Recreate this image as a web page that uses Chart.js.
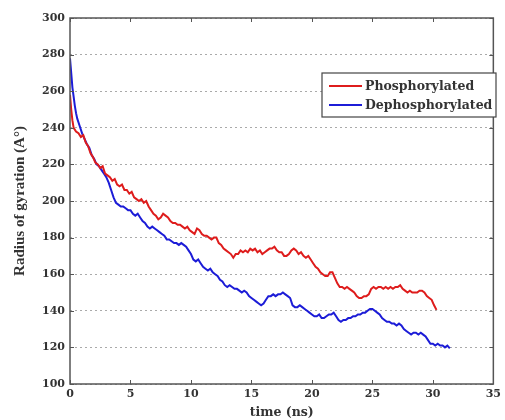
<!DOCTYPE html>
<html>
<head>
<meta charset="utf-8">
<script src="https://cdn.jsdelivr.net/npm/chart.js@4"></script>
<style>
  html, body { margin: 0; padding: 0; background: #fff; }
  #wrap { width: 505px; height: 420px; }
</style>
</head>
<body>
<div id="wrap"><canvas id="chart"></canvas></div>
<script>
// time (ns) and radius of gyration
const phosTime = [0,0.1,0.2,0.3,0.5,0.7,0.9,1.1,1.3,1.5,1.7,1.9,2.1,2.3,2.5,2.7,2.9,3.1,3.3,3.5,3.7,3.9,4.1,4.3,4.5,4.7,4.9,5.1,5.3,5.5,5.7,5.9,6.1,6.3,6.5,6.7,6.9,7.1,7.3,7.5,7.7,7.9,8.1,8.3,8.5,8.7,8.9,9.1,9.3,9.5,9.7,9.9,10.1,10.3,10.5,10.7,10.9,11.1,11.3,11.5,11.7,11.9,12.1,12.3,12.5,12.7,12.9,13.1,13.3,13.5,13.7,13.9,14.1,14.3,14.5,14.7,14.9,15.1,15.3,15.5,15.7,15.9,16.1,16.3,16.5,16.7,16.9,17.1,17.3,17.5,17.7,17.9,18.1,18.3,18.5,18.7,18.9,19.1,19.3,19.5,19.7,19.9,20.1,20.3,20.5,20.7,20.9,21.1,21.3,21.5,21.7,21.9,22.1,22.3,22.5,22.7,22.9,23.1,23.3,23.5,23.7,23.9,24.1,24.3,24.5,24.7,24.9,25.1,25.3,25.5,25.7,25.9,26.1,26.3,26.5,26.7,26.9,27.1,27.3,27.5,27.7,27.9,28.1,28.3,28.5,28.7,28.9,29.1,29.3,29.5,29.7,29.9,30.1,30.3];
const phosRg = [258,250,244,240,238,237,235,236,232,230,226,224,221,220,218,219,215,214,213,211,212,209,208,209,206,206,204,205,202,201,200,201,199,200,197,195,193,192,190,191,193,192,191,189,188,188,187,187,186,185,186,184,183,182,185,184,182,181,181,180,179,180,180,177,176,174,173,172,171,169,171,171,173,172,173,172,174,173,174,172,173,171,172,173,174,174,175,173,172,172,170,170,171,173,174,173,171,172,170,169,170,168,166,164,163,161,160,159,159,161,161,158,155,153,153,152,153,152,151,150,148,147,147,148,148,149,152,153,152,153,153,152,153,152,153,152,153,153,154,152,151,150,151,150,150,150,151,151,150,148,147,146,143,140.5];

const dephosTime = [0,0.1,0.2,0.3,0.4,0.5,0.6,0.8,1.0,1.2,1.4,1.6,1.8,2.0,2.2,2.4,2.6,2.8,3.0,3.2,3.4,3.6,3.8,4.0,4.2,4.4,4.6,4.8,5.0,5.2,5.4,5.6,5.8,6.0,6.2,6.4,6.6,6.8,7.0,7.2,7.4,7.6,7.8,8.0,8.2,8.4,8.6,8.8,9.0,9.2,9.4,9.6,9.8,10.0,10.2,10.4,10.6,10.8,11.0,11.2,11.4,11.6,11.8,12.0,12.2,12.4,12.6,12.8,13.0,13.2,13.4,13.6,13.8,14.0,14.2,14.4,14.6,14.8,15.0,15.2,15.4,15.6,15.8,16.0,16.2,16.4,16.6,16.8,17.0,17.2,17.4,17.6,17.8,18.0,18.2,18.4,18.6,18.8,19.0,19.2,19.4,19.6,19.8,20.0,20.2,20.4,20.6,20.8,21.0,21.2,21.4,21.6,21.8,22.0,22.2,22.4,22.6,22.8,23.0,23.2,23.4,23.6,23.8,24.0,24.2,24.4,24.6,24.8,25.0,25.2,25.4,25.6,25.8,26.0,26.2,26.4,26.6,26.8,27.0,27.2,27.4,27.6,27.8,28.0,28.2,28.4,28.6,28.8,29.0,29.2,29.4,29.6,29.8,30.0,30.2,30.4,30.6,30.8,31.0,31.2,31.4];
const dephosRg = [278,270,262,257,252,248,245,241,237,234,231,229,225,223,220,219,217,215,213,210,206,202,199,198,197,197,196,195,195,193,192,193,191,189,188,186,185,186,185,184,183,182,181,179,179,178,177,177,176,177,176,175,173,171,168,167,168,166,164,163,162,163,161,160,159,157,156,154,153,154,153,152,152,151,150,151,150,148,147,146,145,144,143,144,146,148,148,149,148,149,149,150,149,148,147,143,142,142,143,142,141,140,139,138,137,137,138,136,136,137,138,138,139,137,135,134,135,135,136,136,137,137,138,138,139,139,140,141,141,140,139,138,136,135,134,134,133,133,132,133,132,130,129,128,127,128,128,127,128,127,126,124,122,122,121,122,121,121,120,121,119.5];

const xTicks = [0, 5, 10, 15, 20, 25, 30, 35];
const yTicks = [100, 120, 140, 160, 180, 200, 220, 240, 260, 280, 300];

const seriesNames = ['Phosphorylated', 'Dephosphorylated'];
const seriesColors = ['rgb(222,28,28)', 'rgb(28,28,215)'];

const toPoints = (xs, ys) => xs.map((x, i) => ({ x: x, y: ys[i] }));

// inward tick marks on all four sides, plus the frame
const frameTicks = {
  id: 'frameTicks',
  afterDraw(chart) {
    const { ctx, chartArea: a, scales } = chart;
    ctx.save();
    ctx.strokeStyle = '#555';
    ctx.lineWidth = 1;
    ctx.beginPath();
    xTicks.forEach(v => {
      const px = Math.round(scales.x.getPixelForValue(v)) + 0.5;
      ctx.moveTo(px, a.bottom); ctx.lineTo(px, a.bottom - 4);
      ctx.moveTo(px, a.top); ctx.lineTo(px, a.top + 4);
    });
    yTicks.forEach(v => {
      const py = Math.round(scales.y.getPixelForValue(v)) + 0.5;
      ctx.moveTo(a.left, py); ctx.lineTo(a.left + 4, py);
      ctx.moveTo(a.right, py); ctx.lineTo(a.right - 4, py);
    });
    ctx.stroke();
    ctx.lineWidth = 1.5;
    ctx.strokeRect(a.left, a.top, a.right - a.left, a.bottom - a.top);
    ctx.restore();
  }
};

// boxed legend in the top right of the plot
const boxLegend = {
  id: 'boxLegend',
  afterDraw(chart) {
    const ctx = chart.ctx;
    const bx = 322, by = 73, bw = 174, bh = 44;
    ctx.save();
    ctx.fillStyle = '#fff';
    ctx.fillRect(bx, by, bw, bh);
    ctx.strokeStyle = '#444';
    ctx.lineWidth = 1.2;
    ctx.strokeRect(bx, by, bw, bh);
    ctx.font = 'bold 12.5px "DejaVu Serif"';
    ctx.textBaseline = 'middle';
    seriesNames.forEach((name, i) => {
      const y = by + 13 + i * 19;
      ctx.strokeStyle = seriesColors[i];
      ctx.lineWidth = 2;
      ctx.beginPath();
      ctx.moveTo(bx + 7, y); ctx.lineTo(bx + 40, y);
      ctx.stroke();
      ctx.fillStyle = '#333';
      ctx.fillText(name, bx + 43, y + 1);
    });
    ctx.restore();
  }
};

new Chart(document.getElementById('chart').getContext('2d'), {
  type: 'line',
  data: {
    datasets: [
      {
        label: seriesNames[0],
        data: toPoints(phosTime, phosRg),
        borderColor: seriesColors[0],
        borderWidth: 2,
        pointRadius: 0,
        tension: 0
      },
      {
        label: seriesNames[1],
        data: toPoints(dephosTime, dephosRg),
        borderColor: seriesColors[1],
        borderWidth: 2,
        pointRadius: 0,
        tension: 0
      }
    ]
  },
  options: {
    responsive: true,
    maintainAspectRatio: false,
    animation: false,
    layout: { padding: { top: 18, right: 5, left: 0, bottom: 0 } },
    plugins: { legend: { display: false }, tooltip: { enabled: false } },
    scales: {
      x: {
        type: 'linear',
        min: 0,
        max: 35,
        afterBuildTicks: s => { s.ticks = xTicks.map(v => ({ value: v })); },
        afterFit: s => { s.height = 36; },
        grid: { display: false, drawTicks: false },
        border: { display: false },
        ticks: {
          padding: 4,
          color: '#333',
          font: { family: 'DejaVu Serif', weight: 'bold', size: 11 }
        },
        title: {
          display: true,
          text: 'time (ns)',
          color: '#333',
          padding: { top: 0, bottom: 0 },
          font: { family: 'DejaVu Serif', weight: 'bold', size: 12.5 }
        }
      },
      y: {
        min: 100,
        max: 300,
        afterBuildTicks: s => { s.ticks = yTicks.map(v => ({ value: v })); },
        afterFit: s => { s.width = 70; },
        grid: {
          color: '#aaa',
          lineWidth: 1,
          drawTicks: false
        },
        border: { display: false, dash: [2, 3] },
        ticks: {
          padding: 5,
          color: '#333',
          font: { family: 'DejaVu Serif', weight: 'bold', size: 11 }
        },
        title: {
          display: true,
          text: 'Radius of gyration (A\u00B0)',
          color: '#333',
          padding: { top: 11, bottom: 0 },
          font: { family: 'Liberation Serif', weight: 'bold', size: 15 }
        }
      }
    }
  },
  plugins: [frameTicks, boxLegend]
});
</script>
</body>
</html>
